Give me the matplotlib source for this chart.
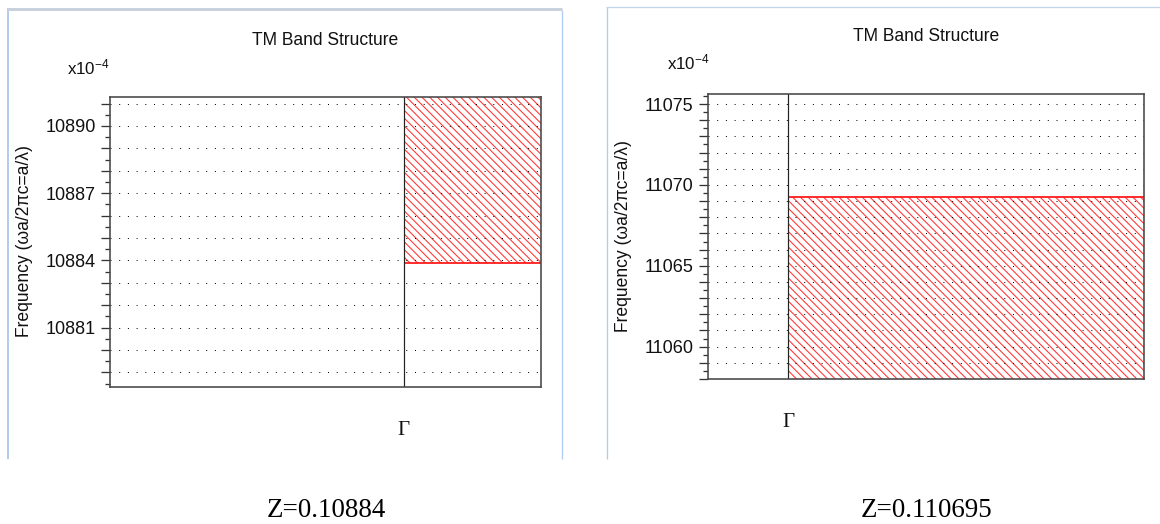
import numpy as np
import matplotlib
matplotlib.use("Agg")
import matplotlib.pyplot as plt
from matplotlib.lines import Line2D
from matplotlib.ticker import MultipleLocator

W, H, DPI = 1160, 524, 116
PT = 72.0 / DPI  # points per pixel

plt.rcParams['font.family'] = ['Liberation Sans', 'DejaVu Sans']
plt.rcParams['mathtext.fontset'] = 'custom'
plt.rcParams['mathtext.rm'] = 'Liberation Sans'
plt.rcParams['mathtext.it'] = 'Liberation Sans:italic'
plt.rcParams['hatch.linewidth'] = 1.1 * PT

# ---------------- data ----------------
titles = ["TM Band Structure", "TM Band Structure"]
k_labels = ["Γ"]
k_gamma = [0.0]
x_ranges = [(-0.681, 0.319), (-0.185, 0.815)]
y_ranges = [(10878.36, 10891.28), (11058.0, 11075.62)]
labeled_ticks = [[10881, 10884, 10887, 10890], [11060, 11065, 11070, 11075]]
band_lower = [10883.9, 11050.0]
band_upper = [10895.0, 11069.28]
edge_values = [10883.9, 11069.28]
z_labels = ["Z=0.10884", "Z=0.110695"]
y_label = "Frequency (ωa/2πc=a/λ)"

# ---------------- layout (pixels) ----------------
axes_px = [(110, 97.3, 541, 386.7), (707.7, 94, 1144, 379)]
title_pos = [(325, 45), (926, 41)]
mult_pos = [(67, 74), (667, 69)]
ylabel_pos = [(25, 241), (623, 236)]
z_pos = [(326, 516.7), (926, 516.7)]

fig = plt.figure(figsize=(W / DPI, H / DPI), dpi=DPI, facecolor='white')


def fx(x):
    return x / W


def fy(y):
    return 1 - y / H


def add_line(x0, y0, x1, y1, color, lw):
    fig.add_artist(Line2D([fx(x0), fx(x1)], [fy(y0), fy(y1)],
                          transform=fig.transFigure, color=color,
                          lw=lw * PT, solid_capstyle='butt'))


# screenshot frames
add_line(8, 8, 8, 458.7, '#b4cdec', 2)
add_line(7, 8.5, 562, 8.5, '#c9d1dd', 3)
add_line(561.5, 10, 561.5, 458.7, '#aecbf0', 1.3)
add_line(606.5, 7, 606.5, 458.7, '#aecbf0', 1.3)
add_line(606, 7, 1160, 7, '#c4d4ea', 1.3)

for i in range(2):
    l, t, r, b = axes_px[i]
    ax = fig.add_axes([fx(l), fy(b), (r - l) / W, (b - t) / H])
    ax.set_facecolor('white')
    x0, x1 = x_ranges[i]
    y0, y1 = y_ranges[i]
    ax.set_xlim(x0, x1)
    ax.set_ylim(y0, y1)

    g = k_gamma[0]
    # hatched band
    ax.fill_between([g, x1], band_lower[i], band_upper[i], facecolor='none',
                    edgecolor='#ff3a3a', hatch='\\' * 5, linewidth=0, zorder=1)
    ax.hlines(edge_values[i], g, x1, color='#ff1a1a', lw=1.8 * PT, zorder=3)
    ax.axvline(g, color='#222222', lw=1.2 * PT, zorder=3)

    # ticks
    majors = np.arange(np.ceil(y0), np.floor(y1) + 1, 1.0)
    ax.set_yticks(majors)
    ax.set_yticklabels([str(int(v)) if int(v) in labeled_ticks[i] else '' for v in majors])
    ax.yaxis.set_minor_locator(MultipleLocator(0.5))
    ax.tick_params(axis='y', which='major', direction='out', length=9 * PT,
                   width=1.3 * PT, color='#333333', labelsize=18 * PT,
                   pad=5 * PT, labelcolor='#111111')
    ax.tick_params(axis='y', which='minor', direction='out', length=5 * PT,
                   width=1.3 * PT, color='#333333')
    ax.set_xticks(k_gamma)
    ax.set_xticklabels(k_labels, fontfamily=['Liberation Serif', 'DejaVu Serif'])
    ax.tick_params(axis='x', length=0, labelsize=21 * PT, pad=34 * PT,
                   labelcolor='#111111')

    ax.set_axisbelow(False)
    ax.yaxis.grid(True, which='major', color='black',
                  linestyle=(0, (1, 7.7)), linewidth=1 * PT)
    ax.xaxis.grid(False)
    for s in ax.spines.values():
        s.set_color('#474747')
        s.set_linewidth(1.6 * PT)
        s.set_zorder(4)

    tx, ty = title_pos[i]
    fig.text(fx(tx), fy(ty), titles[i], ha='center', va='baseline',
             fontsize=17.5 * PT, color='#111111')
    mx, my = mult_pos[i]
    fig.text(fx(mx), fy(my), r'$\mathrm{x10}^{-4}$', ha='left', va='baseline',
             fontsize=17 * PT, color='#111111')
    lx, ly = ylabel_pos[i]
    fig.text(fx(lx), fy(ly), y_label, ha='center', va='center', rotation=90,
             fontsize=17.5 * PT, color='#111111')
    zx, zy = z_pos[i]
    fig.text(fx(zx), fy(zy), z_labels[i], ha='center', va='baseline',
             fontsize=27 * PT, color='black',
             fontfamily=['Liberation Serif', 'DejaVu Serif'])

fig.savefig('out.png', dpi=DPI, facecolor='white')
